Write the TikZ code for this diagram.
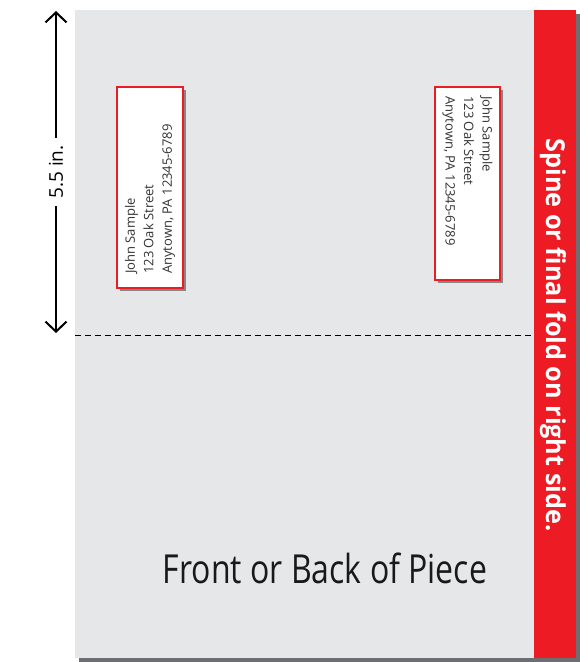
\documentclass[tikz,border=0pt]{standalone}
\usepackage{fontspec}
\setmainfont{Open Sans}
\usetikzlibrary{arrows.meta,shadows}

\definecolor{sheetgray}{HTML}{E6E7E8}
\definecolor{spinered}{HTML}{ED1C24}
\definecolor{shadowgray}{HTML}{6D6E71}

\tikzset{
    addrbox/.style={draw=spinered, line width=2pt, fill=white, inner sep=0pt,
        drop shadow={shadow xshift=3pt, shadow yshift=-3pt, fill=shadowgray, opacity=0.8}},
    addrtext/.style={align=left, inner sep=0pt, text=black!80,
        font=\fontsize{13}{18.5}\selectfont},
    dimarrow/.style={line width=2pt,
        {Straight Barb[length=10pt,width=21pt]}-{Straight Barb[length=10pt,width=21pt]}}
}

\begin{document}
\begin{tikzpicture}[x=1pt, y=-1pt]
    \useasboundingbox[fill=white] (0,0) rectangle (588,662);
    % sheet and its shadow
    \fill[shadowgray] (79,14) rectangle (580,662);
    \fill[sheetgray] (75,10) rectangle (534,658);
    \fill[spinered] (534,10) rectangle (576,658);
    \node[rotate=-90, text=white, inner sep=0pt] (spine) at (553,335)
        {\scalebox{0.97}[1]{\fontsize{26}{26}\selectfont\bfseries Spine or final fold on right side.}};
    % fold line
    \coordinate (foldleft) at (75,335);
    \coordinate (foldright) at (534,335);
    \draw[dash pattern=on 6pt off 4pt, line width=0.8pt] (foldleft) -- (foldright);
    % dimension
    \coordinate (dimtop) at (56,11);
    \coordinate (dimbottom) at (56,333);
    \draw[dimarrow] (dimtop) -- (dimbottom)
        node[midway, rotate=90, fill=white, inner xsep=7pt, inner ysep=2pt,
             font=\fontsize{19}{19}\selectfont] (dimlabel) {5.5 in.};
    % address labels
    \node[addrbox, minimum width=66pt, minimum height=201pt] (leftlabel) at (150,187.5) {};
    \node[addrtext, rotate=90, anchor=west] (lefttext) at ([yshift=15pt]leftlabel.south)
        {John Sample\\123 Oak Street\\Anytown, PA 12345-6789};
    \node[addrbox, minimum width=65pt, minimum height=193pt] (rightlabel) at (467.5,183.5) {};
    \node[addrtext, rotate=-90, anchor=west] (righttext) at ([yshift=-10pt]rightlabel.north)
        {John Sample\\123 Oak Street\\Anytown, PA 12345-6789};
    % caption
    \node[anchor=base, inner sep=0pt, text=black!90] (piece) at (325,583)
        {\scalebox{0.8}[1]{\fontsize{40}{40}\selectfont Front or Back of Piece}};
\end{tikzpicture}
\end{document}
